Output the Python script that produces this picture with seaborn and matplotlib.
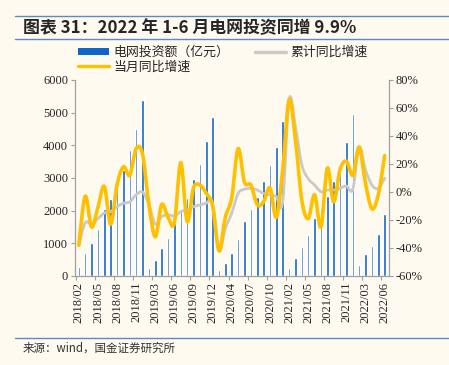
import numpy as np
import pandas as pd
import matplotlib
matplotlib.use("Agg")
import matplotlib.pyplot as plt
from matplotlib.path import Path
from matplotlib.patches import PathPatch, Patch
from matplotlib.lines import Line2D
from matplotlib.ticker import FixedLocator
import seaborn as sns

# months: Feb..Dec each year (Jan merged into Feb), up to 2022/06
months = [f"{y}/{m:02d}" for y in range(2018, 2023) for m in range(2, 13)
          if not (y == 2022 and m > 6)]

# grid investment, 100m yuan
invest = [280, 700, 1020, 1430, 2060, 2350, 2850, 3250, 3846, 4500, 5397,
          240, 505, 845, 1170, 1700, 2000, 2400, 2955, 3420, 4130, 4866,
          175, 390, 695, 1130, 1695, 2062, 2410, 2910, 3390, 3940, 4734,
          245, 545, 880, 1250, 1770, 2060, 2440, 2910, 3430, 4090, 4950,
          327, 660, 918, 1285, 1910]

# cumulative yoy, %
cum_yoy = [-38, -22, -23, -19, -15, -14, -10.5, -8, -7, -2, 0,
           -9, -23, -17.6, -16.4, -17, -14, -13, -10.5, -9.3, -8, -8,
           -42, -26, -15, -1, 2, 2.6, 1.4, -1, -2, -3.3, -7,
           66, 46.7, 19.3, 9.5, 5, 0.2, 1.4, 1.4, 2.6, 4.3, 2,
           32, 15.7, 5, 2.6, 9.9]

# monthly yoy, %
mon_yoy = [-38, -3, -25, -11, 4, -23, 5, 18, 12, 31, 27,
           -9, -32, -9, -18, -22, 21, -21, 3, 5, -1, -10,
           -42, -18, -4, 31, 7, 5, -9, -7, 3, -18, 16,
           66, 37, -6, -19, -2, -25, 17, -7, 16, 22, 12,
           32, 6, -12, -2, 26]

df = pd.DataFrame({"month": months, "invest": invest,
                   "cum": cum_yoy, "mon": mon_yoy})

BG = "#FEFAF0"
BLUE = "#0F66C8"
YELLOW = "#FFC000"
GRAY = "#C9C9C9"
RULE = "#5A8AC8"
SPINE = "#A0A0A0"

sns.set_style("ticks")
plt.rcParams["font.family"] = ["Liberation Serif", "Noto Sans CJK SC", "DejaVu Sans"]
cjk = ["Noto Sans CJK SC", "DejaVu Sans"]


def smooth_path(xs, ys):
    # smoothed line through the data points (like office "smooth line")
    pts = np.column_stack([xs, ys]).astype(float)
    n = len(pts)
    verts = [pts[0]]
    codes = [Path.MOVETO]
    for i in range(n - 1):
        p0 = pts[max(i - 1, 0)]
        p1 = pts[i]
        p2 = pts[i + 1]
        p3 = pts[min(i + 2, n - 1)]
        verts += [p1 + (p2 - p0) / 6, p2 - (p3 - p1) / 6, p2]
        codes += [Path.CURVE4] * 3
    return Path(verts, codes)


fig = plt.figure(figsize=(4.49, 3.65), dpi=100, facecolor=BG)
ax = fig.add_axes([75 / 449, 1 - 276 / 365, (388.5 - 75) / 449, 196 / 365])
ax.set_facecolor("none")

sns.barplot(data=df, x="month", y="invest", color=BLUE, width=0.4,
            saturation=1, ax=ax, zorder=2)

ax2 = ax.twinx()
x = np.arange(len(df))
ax2.add_patch(PathPatch(smooth_path(x, df["cum"]), fill=False, edgecolor=GRAY,
                        lw=2.0, capstyle="round", joinstyle="round", zorder=3))
ax2.add_patch(PathPatch(smooth_path(x, df["mon"]), fill=False, edgecolor=YELLOW,
                        lw=2.6, capstyle="round", joinstyle="round", zorder=4))

ax.set_xlim(-0.6, len(df) - 0.4)
ax.set_ylim(0, 6000)
ax2.set_ylim(-60, 80)

ax.set_yticks(range(0, 6001, 1000))
ax.set_yticklabels([str(v) for v in range(0, 6001, 1000)], fontsize=9)
ax2.set_yticks(range(-60, 81, 20))
ax2.set_yticklabels([f"{v}%" for v in range(-60, 81, 20)], fontsize=9)

ax.set_xticks(x[::3])
ax.set_xticklabels(months[::3], rotation=90, fontsize=9)
ax.xaxis.set_minor_locator(FixedLocator(np.arange(-0.5, len(df), 3)))
ax.tick_params(axis="x", which="major", length=0, pad=4)
ax.tick_params(axis="x", which="minor", length=3, color=SPINE, width=0.8)
ax.tick_params(axis="y", length=3, color=SPINE, width=0.8, pad=2)
ax2.tick_params(axis="y", length=3, color=SPINE, width=0.8, pad=2)
ax.set_xlabel("")
ax.set_ylabel("")

for a in (ax, ax2):
    a.spines["top"].set_visible(False)
    for s in ("left", "right", "bottom"):
        a.spines[s].set_color(SPINE)
        a.spines[s].set_linewidth(0.9)
ax.spines["right"].set_visible(False)
ax2.spines["left"].set_visible(False)
ax2.spines["bottom"].set_visible(False)

# legend
handles = [Patch(facecolor=BLUE, edgecolor="none"),
           Line2D([], [], color=YELLOW, lw=2.4),
           Line2D([], [], color=GRAY, lw=2.4)]
labels = ["电网投资额（亿元）", "当月同比增速", "累计同比增速"]
fig.legend(handles, labels, loc="upper left", bbox_to_anchor=(78 / 449, 1 - 46 / 365),
           ncol=2, frameon=False, borderpad=0, borderaxespad=0,
           handlelength=2.4, handleheight=0.45, handletextpad=0.35,
           columnspacing=2.0, labelspacing=0.1,
           prop={"family": cjk, "size": 9.3})

# title and rules
fig.add_artist(Line2D([15 / 449, 1], [1 - 16 / 365] * 2, color=RULE, lw=1))
fig.add_artist(Line2D([15 / 449, 1], [1 - 39 / 365] * 2, color=RULE, lw=1))
fig.add_artist(Line2D([15 / 449, 1], [1 - 338 / 365] * 2, color=RULE, lw=1))
fig.text(23 / 449, 1 - 28 / 365, "图表 31：2022 年 1-6 月电网投资同增 9.9%",
         family=cjk, fontsize=12.2, fontweight="bold", va="center", ha="left")
fig.text(23 / 449, 1 - 348 / 365, "来源：wind，国金证券研究所",
         family=cjk, fontsize=8.3, va="center", ha="left", color="#333333")

fig.savefig("out.png", dpi=100, facecolor=BG)
